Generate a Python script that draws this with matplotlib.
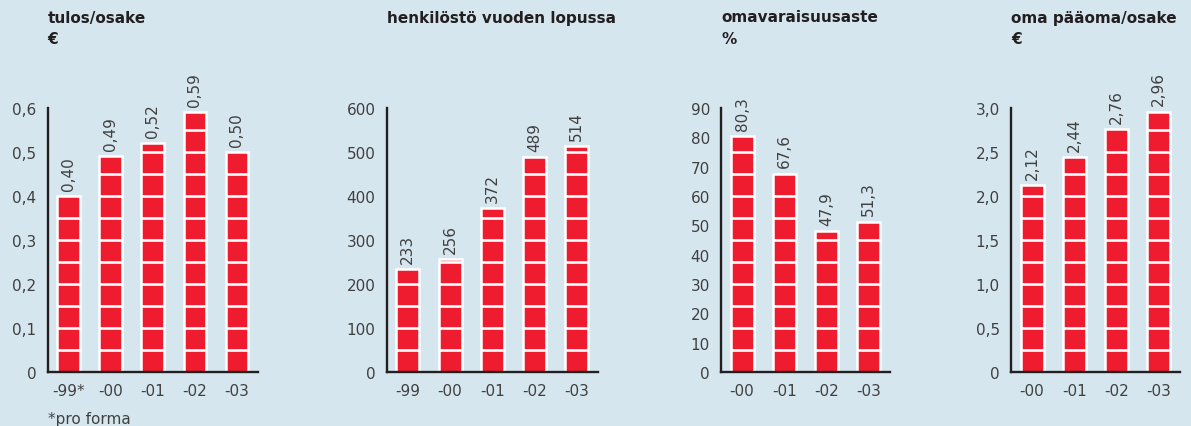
import matplotlib
matplotlib.use("Agg")
import matplotlib.pyplot as plt
from matplotlib.ticker import FuncFormatter

# ---- data ----
titles = ["tulos/osake", "henkilöstö vuoden lopussa", "omavaraisuusaste", "oma pääoma/osake"]
units = ["€", "", "%", "€"]
cats1 = ["-99*", "-00", "-01", "-02", "-03"]
vals1 = [0.40, 0.49, 0.52, 0.59, 0.50]
cats2 = ["-99", "-00", "-01", "-02", "-03"]
vals2 = [233, 256, 372, 489, 514]
cats3 = ["-00", "-01", "-02", "-03"]
vals3 = [80.3, 67.6, 47.9, 51.3]
cats4 = ["-00", "-01", "-02", "-03"]
vals4 = [2.12, 2.44, 2.76, 2.96]
yticks1 = [0, 0.1, 0.2, 0.3, 0.4, 0.5, 0.6]
yticks2 = [0, 100, 200, 300, 400, 500, 600]
yticks3 = [0, 10, 20, 30, 40, 50, 60, 70, 80, 90]
yticks4 = [0, 0.5, 1.0, 1.5, 2.0, 2.5, 3.0]
footnote = "*pro forma"

# ---- style ----
BG = "#d6e6ef"
RED = "#ee1c2e"
DARK = "#231f20"
TXT = "#404040"
FONT = "DejaVu Sans"
W, H = 1191, 427
dpi = 100

fig = plt.figure(figsize=(W / dpi, H / dpi), dpi=dpi, facecolor=BG)

panels = [
    (cats1, vals1, yticks1, 2, 47.7, 258, 1),
    (cats2, vals2, yticks2, 0, 386.7, 598, 0),
    (cats3, vals3, yticks3, 1, 721, 890, 0),
    (cats4, vals4, yticks4, 2, 1011, 1180, 1),
]

top_px, bot_px = 109, 373
bw = 0.54

def fmt_num(v, dec):
    if v == 0:
        return "0"
    return f"{v:.{dec}f}".replace(".", ",")

for idx, (cats, vals, yt, dec, x0, x1, tdec) in enumerate(panels):
    ax = fig.add_axes([x0 / W, (H - bot_px) / H, (x1 - x0) / W, (bot_px - top_px) / H])
    ax.set_facecolor("none")
    n = len(cats)
    xs = list(range(n))
    ymax = yt[-1]
    ax.bar(xs, vals, width=bw, color=RED, edgecolor="white", linewidth=1.8, zorder=2)
    step = ymax / 12.0
    for x, v in zip(xs, vals):
        k = 1
        while k * step < v - step * 0.05:
            ax.hlines(k * step, x - bw / 2, x + bw / 2, color="white", lw=1.9, zorder=3)
            k += 1
        ax.annotate(fmt_num(v, dec), (x, v), xytext=(0, 4.5), textcoords="offset points",
                    rotation=90, ha="center", va="bottom", fontsize=11, color=TXT,
                    annotation_clip=False, family=FONT)
    ax.set_xlim(-0.5, n - 0.5)
    ax.set_ylim(0, ymax)
    ax.set_yticks(yt)
    ax.yaxis.set_major_formatter(FuncFormatter(lambda v, p, d=tdec: fmt_num(v, d)))
    ax.set_xticks(xs)
    ax.set_xticklabels(cats)
    ax.tick_params(length=0, labelsize=11, colors=TXT, pad=8)
    ax.tick_params(axis="y", pad=8)
    for lab in ax.get_xticklabels() + ax.get_yticklabels():
        lab.set_family(FONT)
    for s in ["top", "right"]:
        ax.spines[s].set_visible(False)
    for s in ["left", "bottom"]:
        ax.spines[s].set_color(DARK)
        ax.spines[s].set_linewidth(1.7)
    ax.spines["bottom"].set_zorder(4)

    fig.text(x0 / W, 1 - 18 / H, titles[idx], fontsize=11, fontweight="bold",
             color=DARK, va="center", ha="left", family=FONT)
    if units[idx]:
        fig.text(x0 / W, 1 - 40 / H, units[idx], fontsize=11, fontweight="bold",
                 color=DARK, va="center", ha="left", family=FONT)

fig.text(48 / W, 1 - 420 / H, footnote, fontsize=11, color=TXT, va="center", ha="left",
         family=FONT)

fig.savefig("out.png", dpi=dpi, facecolor=BG)
